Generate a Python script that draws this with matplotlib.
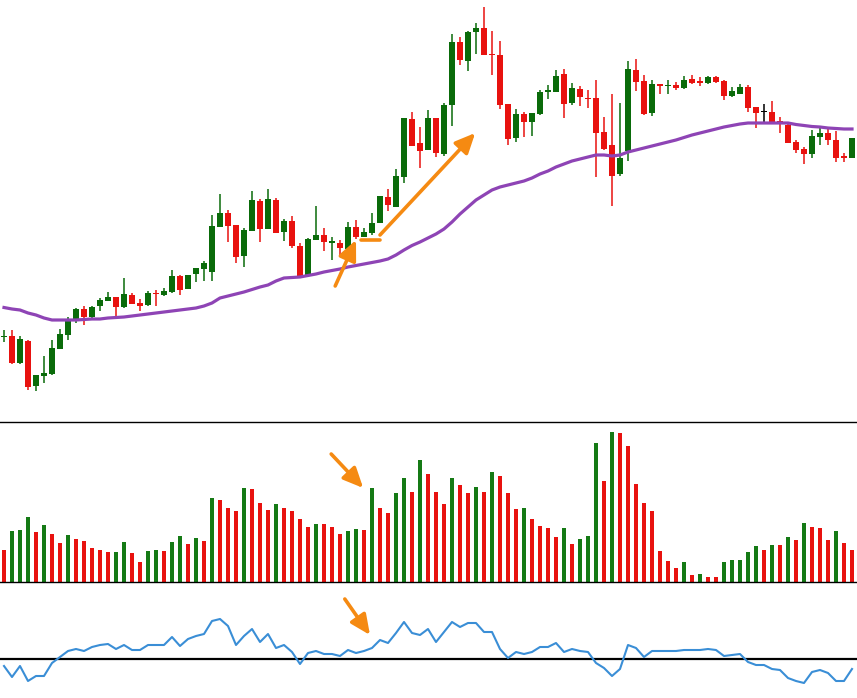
import numpy as np
import matplotlib
matplotlib.use("Agg")
import matplotlib.pyplot as plt

# price candles (arbitrary price units, index = bar number)
opens = [63, 64, 37, 59, 14, 24, 26, 51, 65, 81,
         91, 83, 94, 99, 103, 93, 105, 97, 95, 107,
         105, 108, 124, 111, 126, 131, 128, 173, 187, 175,
         144, 169, 199, 171, 200, 168, 179, 154, 125, 160,
         165, 157, 157, 151, 173, 163, 167, 177, 203, 193,
         223, 281, 257, 250, 282, 246, 295, 358, 339, 368,
         372, 346, 345, 296, 262, 286, 278, 286, 308, 308,
         326, 297, 311, 302, 302, 268, 255, 226, 249, 330,
         319, 287, 316, 314, 315, 312, 321, 319, 317, 323,
         319, 304, 306, 313, 293, 288, 288, 279, 275, 258,
         251, 246, 263, 267, 260, 244, 242]
closes = [63.5, 37, 61, 13, 25, 27, 52, 66, 80, 91,
          83, 93, 100, 103, 93, 106, 96, 94, 107, 106,
          109, 124, 110, 125, 132, 137, 174, 187, 174, 143,
          170, 200, 171, 201, 167, 179, 154, 124, 161, 165,
          158, 159, 152, 173, 163, 168, 177, 204, 195, 224,
          282, 254, 249, 282, 247, 295, 358, 340, 368, 372,
          345, 345.5, 295, 261, 286, 278, 287, 308, 310, 324,
          296, 312, 303, 301, 267, 251, 224, 242, 331, 318,
          286, 316, 314, 315, 312, 320, 317, 317.5, 323, 318,
          304, 309, 313, 292, 287, 288, 278, 278.5, 257, 250,
          246, 264, 267, 260, 242, 242.5, 262]
highs = [70, 70, 64, 60, 25, 44, 60, 71, 83, 92,
         94, 94, 102, 108, 103, 122, 107, 101, 109, 110,
         112, 130, 125, 125, 132, 139, 185, 206, 190, 175,
         172, 209, 201, 211, 202, 181, 184, 157, 162, 194,
         172, 163, 160, 178, 180, 172, 187, 204, 211, 231,
         282, 288, 273, 290, 282, 297, 366, 363, 369, 377,
         393, 369, 359, 296, 291, 288, 287, 310, 315, 330,
         331, 317, 314, 310, 320, 283, 306, 297, 339, 341,
         325, 320, 316, 320, 318, 324, 325, 323, 324, 324,
         320, 313, 316, 315, 293, 296, 299, 283, 278, 260,
         253, 270, 272, 272, 269, 247, 262]
lows = [58, 36, 36, 10, 9, 17, 25, 51, 60, 77,
        75, 82, 89, 99, 84, 92, 96, 89, 94, 94,
        104, 107, 105, 111, 118, 119, 119, 173, 158, 137,
        133, 169, 158, 171, 167, 159, 152, 123, 124, 160,
        149, 140, 144, 143, 161, 163, 165, 177, 189, 193,
        217, 254, 232, 250, 243, 244, 274, 335, 329, 346,
        345, 325, 291, 255, 258, 263, 264, 285, 301, 308,
        282, 295, 294, 292, 223, 250, 194, 224, 239, 309,
        285, 284, 306, 306, 310, 311, 316, 314, 316, 317,
        300, 303, 306, 288, 272, 278, 278, 267, 257, 247,
        236, 242, 255, 255, 238, 238, 242]

# moving average on the price panel
ma_line = [92.5, 91, 90, 87, 85, 82, 80, 80, 80, 80,
           80.5, 81, 81, 82, 82.5, 83, 84, 85, 86, 87,
           88, 89, 90, 91, 92, 94, 97, 102, 104, 106,
           108, 110.5, 113, 115, 119, 122, 122.5, 123, 124.5, 126,
           128, 129.5, 131, 133, 134.5, 136, 137.5, 139, 141, 145,
           150, 154.5, 158, 162, 166, 171, 178, 186, 193, 200,
           205, 210, 213, 215, 217, 219, 222, 226, 229, 233,
           236, 239, 241, 243, 245, 245, 244, 245, 248, 250,
           252, 254, 256, 258, 260, 262.5, 265, 267, 269, 271,
           273, 274.5, 276, 277, 277, 277, 277, 277, 277, 275.5,
           274.5, 273.5, 273, 272, 271.5, 271, 271]

# volume bars
volume = [32, 51, 52, 65, 50, 57, 48, 39, 47, 43,
          41, 34, 32, 30, 30, 40, 29, 20, 31, 32,
          31, 40, 46, 38, 44, 41, 84, 82, 74, 71,
          94, 93, 79, 72, 78, 74, 71, 63, 55, 58,
          58, 55, 48, 51, 53, 52, 94, 74, 69, 89,
          104, 90, 122, 108, 90, 78, 104, 97, 89, 95,
          90, 110, 106, 89, 73, 74, 63, 56, 54, 45,
          54, 38, 43, 46, 139, 101, 150, 149, 136, 98,
          79, 71, 31, 21, 14, 20, 7, 8, 5, 5,
          20, 22, 22, 30, 36, 32, 37, 37, 45, 42,
          59, 55, 54, 42, 51, 39, 32]
volume_dir = list("rgggrgrrgr" "rrrrggrrgg" "rggrgrgrrr" "grrrgrrrrg"
                  "rrrggrgrrg" "grgrrrgrrg" "rgrrrgrrrr" "grgggrgrrr"
                  "rrrrrgrgrr" "gggggrgrgr" "grrrgrr")

# oscillator line, zero = black reference line
osc = [-7, -18, -7, -22, -17, -17, -4, 2, 8, 10,
       8, 12, 14, 15, 10, 14, 9, 9, 14, 14,
       14, 22, 13, 20, 23, 25, 38, 40, 33, 14,
       23, 30, 17, 25, 11, 14, 7, -5, 6, 8,
       5, 5, 3, 9, 6, 8, 11, 19, 16, 26,
       37, 26, 24, 30, 17, 27, 37, 32, 36, 36,
       27, 27, 10, 1, 7, 5, 7, 12, 12, 16,
       7, 10, 8, 7, -4, -9, -17, -10, 14, 11,
       2, 8, 8, 8, 8, 9, 9, 9, 10, 9,
       3, 4, 5, -3, -6, -6, -10, -11, -19, -22,
       -24, -13, -11, -14, -22, -22, -10]

GREEN = "#0a6b0a"
RED = "#e8120f"
VGREEN = "#157a15"
ORANGE = "#f58a12"

x = np.arange(len(opens))
o = np.array(opens, dtype=float)
c = np.array(closes, dtype=float)
h = np.array(highs, dtype=float)
l = np.array(lows, dtype=float)

W, H = 857, 698
fig = plt.figure(figsize=(W / 100, H / 100), dpi=100)
ax_p = fig.add_axes([0, 276 / H, 1, 422 / H])
ax_v = fig.add_axes([0, 116 / H, 1, 160 / H])
ax_o = fig.add_axes([0, 0, 1, 116 / H])

xlim = (-0.5, (W - 4) / 8)
for ax in (ax_p, ax_v, ax_o):
    ax.set_xlim(*xlim)
    ax.set_xticks([])
    ax.set_yticks([])
    for s in ax.spines.values():
        s.set_visible(False)
for ax in (ax_v, ax_o):
    ax.spines["top"].set_visible(True)
    ax.spines["top"].set_linewidth(1.0)
    ax.spines["top"].set_color("black")

# --- candles
cols = np.where(c > o, GREEN, np.where(c < o, RED, "black"))
ax_p.vlines(x, l, h, colors=cols, linewidth=1.1, zorder=2)
body_lo = np.minimum(o, c)
body_h = np.maximum(np.abs(c - o), 0.9)
ax_p.bar(x, body_h, bottom=body_lo, width=0.7, color=cols, linewidth=0, zorder=3)
ax_p.plot(x, ma_line, color="#8e44b5", linewidth=2.3, zorder=4)
ax_p.set_ylim(-22, 400)

arrow_kw = dict(arrowstyle="-|>,head_length=1.2,head_width=0.55",
                color=ORANGE, lw=2.6, shrinkA=0, shrinkB=0)
ax_p.annotate("", xy=(44.0, 160), xytext=(41.4, 114), arrowprops=arrow_kw, zorder=5)
ax_p.plot([44.6, 47.0], [160, 160], color=ORANGE, lw=2.6, solid_capstyle="round", zorder=5)
ax_p.annotate("", xy=(58.9, 267), xytext=(47.0, 165), arrowprops=arrow_kw, zorder=5)

# --- volume
vcols = [VGREEN if d == "g" else RED for d in volume_dir]
ax_v.bar(x, volume, width=0.42, color=vcols, linewidth=0)
ax_v.set_ylim(0, 160)
ax_v.annotate("", xy=(44.9, 94), xytext=(40.9, 128), arrowprops=arrow_kw)

# --- oscillator
ax_o.axhline(0, color="black", linewidth=1.6)
ax_o.plot(x, osc, color="#3a8ed6", linewidth=1.5)
ax_o.set_ylim(-39, 77)
ax_o.annotate("", xy=(45.75, 24), xytext=(42.6, 60), arrowprops=arrow_kw)

fig.savefig("out.png", dpi=100)
